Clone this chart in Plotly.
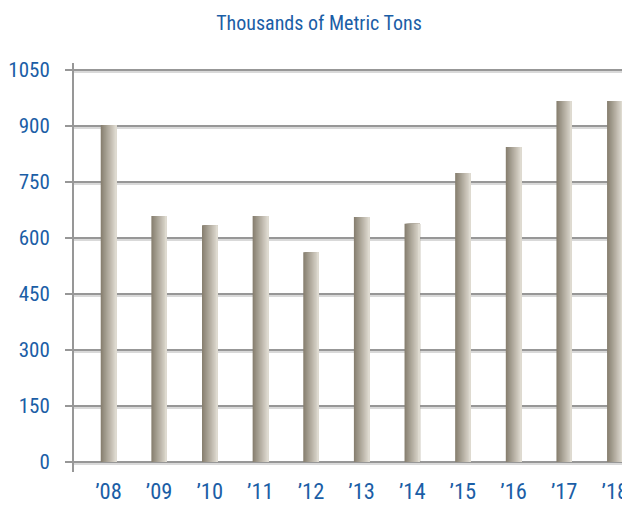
import plotly.graph_objects as go

years = ["’08", "’09", "’10", "’11", "’12", "’13", "’14", "’15", "’16", "’17", "’18"]
values = [903, 659, 634, 659, 562, 656, 638, 774, 844, 967, 967]
y_ticks = [0, 150, 300, 450, 600, 750, 900, 1050]

FONT = "Roboto Condensed, DejaVu Sans Condensed, sans-serif"
BLUE = "#1b5ea6"
GRID = "#979797"
GRID_LIGHT = "#d9d9d9"

xs = list(range(len(years)))
bar_w = 0.306
n_strips = 14
dark = (136, 128, 113)
light = (222, 218, 208)

fig = go.Figure()
for i in range(n_strips):
    t = i / (n_strips - 1)
    c = tuple(round(dark[k] + (light[k] - dark[k]) * t) for k in range(3))
    off = -bar_w / 2 + i * bar_w / n_strips
    fig.add_trace(go.Bar(
        x=xs, y=values,
        width=bar_w / 2 - off,
        offset=off,
        marker=dict(color="rgb(%d,%d,%d)" % c, line=dict(width=0)),
        showlegend=False, hoverinfo="skip",
    ))

# page body has an 8px default margin, so the figure is drawn 8px smaller
W, H = 622, 499
fig.update_layout(
    width=W, height=H,
    margin=dict(l=66, r=0, t=55, b=35, autoexpand=False),
    paper_bgcolor="white", plot_bgcolor="white",
    barmode="overlay",
    font=dict(family=FONT, color=BLUE, size=22),
    title=dict(text="Thousands of Metric Tons", x=0.5, xanchor="center",
               y=1 - 14.5 / H, yanchor="middle",
               font=dict(family=FONT, color=BLUE, size=20)),
    xaxis=dict(
        automargin=False,
        range=[-0.681, 10.30],
        tickmode="array", tickvals=xs, ticktext=years,
        showgrid=False, zeroline=False, showline=False, ticks="",
        tickfont=dict(family=FONT, color=BLUE, size=22.5),
        ticklabelstandoff=3,
    ),
    yaxis=dict(
        automargin=False,
        range=[-27, 1069],
        tickmode="array", tickvals=y_ticks,
        showgrid=True, gridcolor=GRID, gridwidth=2,
        zeroline=True, zerolinecolor=GRID, zerolinewidth=2,
        showline=True, linecolor=GRID, linewidth=2,
        ticks="outside", ticklen=7, tickcolor=GRID, tickwidth=2,
        tickfont=dict(family=FONT, color=BLUE, size=21),
        ticklabelstandoff=11,
        minor=dict(tickmode="array", tickvals=[v - 5 for v in y_ticks],
                   showgrid=True, gridcolor=GRID_LIGHT, gridwidth=2, ticks=""),
    ),
)

fig.write_html("out.html")
